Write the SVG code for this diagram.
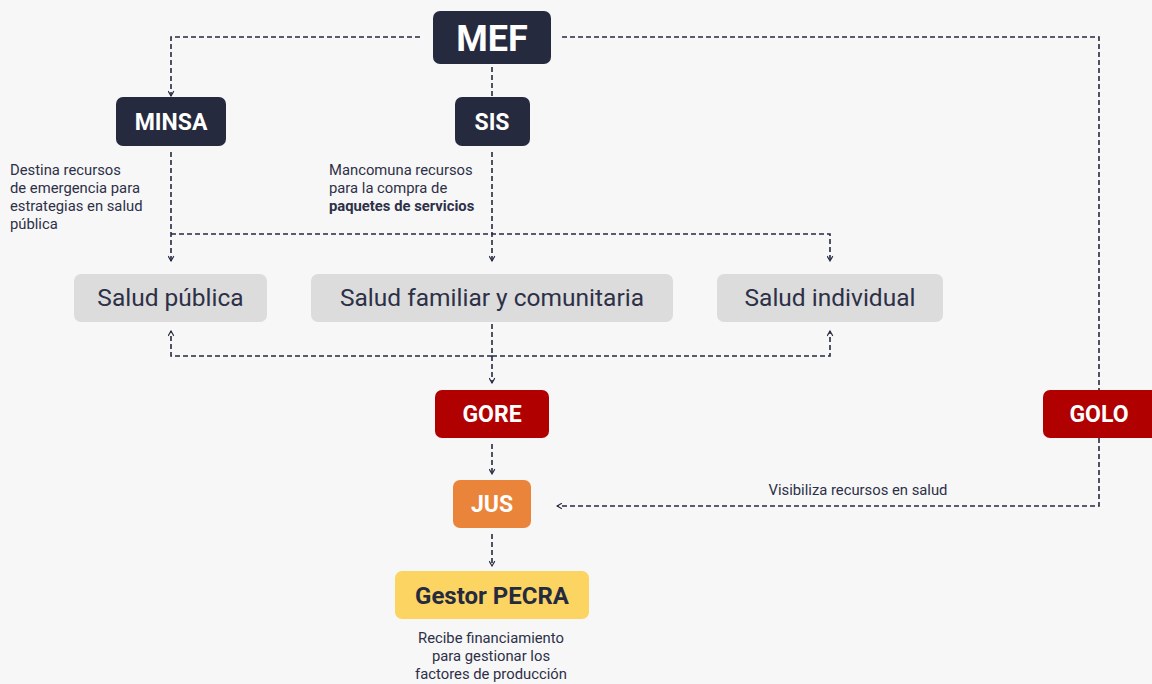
<svg xmlns="http://www.w3.org/2000/svg" width="1152" height="684" viewBox="0 0 1152 684">
<defs>
<style>
.bg{fill:#f7f7f7}
.dark{fill:#262a3f}
.red{fill:#b00000}
.orange{fill:#ea843a}
.yellow{fill:#fbd462}
.gray{fill:#dcdcdc}
.lbl{font-family:Roboto,"Liberation Sans",sans-serif;font-weight:bold;fill:#ffffff;text-anchor:middle}
.lblg{font-family:Roboto,"Liberation Sans",sans-serif;fill:#2d3047;text-anchor:middle;font-size:24.5px}
.note{font-family:Roboto,"Liberation Sans",sans-serif;fill:#2d3047;font-size:14.8px}
.conn{fill:none;stroke:#262a3f;stroke-width:1.6;stroke-dasharray:5 3}
</style>
<marker id="ah" viewBox="0 0 10 10" refX="9" refY="5" markerWidth="7" markerHeight="7" orient="auto" markerUnits="userSpaceOnUse">
<path d="M2 1 L9 5 L2 9" fill="none" stroke="#262a3f" stroke-width="1.6"/>
</marker>
</defs>
<rect class="bg" x="0" y="0" width="1152" height="684"/>
<g id="connectors">
<path class="conn" d="M420 37 H171 V96" marker-end="url(#ah)"/>
<path class="conn" d="M562 37 H1099 V390"/>
<path class="conn" d="M492 67 V97"/>
<path class="conn" d="M171 152 V261" marker-end="url(#ah)"/>
<path class="conn" d="M171 234 H830 V261" marker-end="url(#ah)"/>
<path class="conn" d="M492 152 V261" marker-end="url(#ah)"/>
<path class="conn" d="M492 324 V383" marker-end="url(#ah)"/>
<path class="conn" d="M492 356 H171 V331" marker-end="url(#ah)"/>
<path class="conn" d="M492 356 H830 V331" marker-end="url(#ah)"/>
<path class="conn" d="M492 444 V474" marker-end="url(#ah)"/>
<path class="conn" d="M1099 438 V506 H557" marker-end="url(#ah)"/>
<path class="conn" d="M492 534 V566" marker-end="url(#ah)"/>
</g>
<g id="mef"><rect class="dark" x="433" y="11" width="118" height="53" rx="7"/><text class="lbl" x="492" y="51" font-size="36">MEF</text></g>
<g id="minsa"><rect class="dark" x="116" y="97" width="110" height="49" rx="7"/><text class="lbl" x="171" y="130" font-size="23">MINSA</text></g>
<g id="sis"><rect class="dark" x="455" y="97" width="75" height="49" rx="7"/><text class="lbl" x="492" y="130" font-size="23">SIS</text></g>
<g id="note-minsa"><text class="note" x="10" y="175">Destina recursos</text><text class="note" x="10" y="193">de emergencia para</text><text class="note" x="10" y="211">estrategias en salud</text><text class="note" x="10" y="229">pública</text></g>
<g id="note-sis"><text class="note" x="329" y="175">Mancomuna recursos</text><text class="note" x="329" y="193">para la compra de</text><text class="note" x="329" y="211" font-weight="bold">paquetes de servicios</text></g>
<g id="salud-publica"><rect class="gray" x="74" y="274" width="193" height="48" rx="7"/><text class="lblg" x="170.5" y="306">Salud pública</text></g>
<g id="salud-familiar"><rect class="gray" x="311" y="274" width="362" height="48" rx="7"/><text class="lblg" x="492" y="306">Salud familiar y comunitaria</text></g>
<g id="salud-individual"><rect class="gray" x="717" y="274" width="226" height="48" rx="7"/><text class="lblg" x="830" y="306">Salud individual</text></g>
<g id="gore"><rect class="red" x="435" y="390" width="114" height="48" rx="7"/><text class="lbl" x="492" y="422" font-size="23">GORE</text></g>
<g id="golo"><rect class="red" x="1043" y="390" width="116" height="48" rx="7"/><text class="lbl" x="1099" y="422" font-size="23">GOLO</text></g>
<g id="jus"><rect class="orange" x="453" y="480" width="78" height="48" rx="7"/><text class="lbl" x="492" y="512" font-size="23">JUS</text></g>
<g id="visibiliza"><text class="note" x="858" y="495" text-anchor="middle">Visibiliza recursos en salud</text></g>
<g id="gestor"><rect class="yellow" x="395" y="571" width="194" height="48" rx="7"/><text class="lbl" x="492" y="604" font-size="24" style="fill:#262a3f">Gestor PECRA</text></g>
<g id="note-gestor"><text class="note" x="491" y="643" text-anchor="middle">Recibe financiamiento</text><text class="note" x="491" y="661" text-anchor="middle">para gestionar los</text><text class="note" x="491" y="679" text-anchor="middle">factores de producción</text></g>
</svg>
